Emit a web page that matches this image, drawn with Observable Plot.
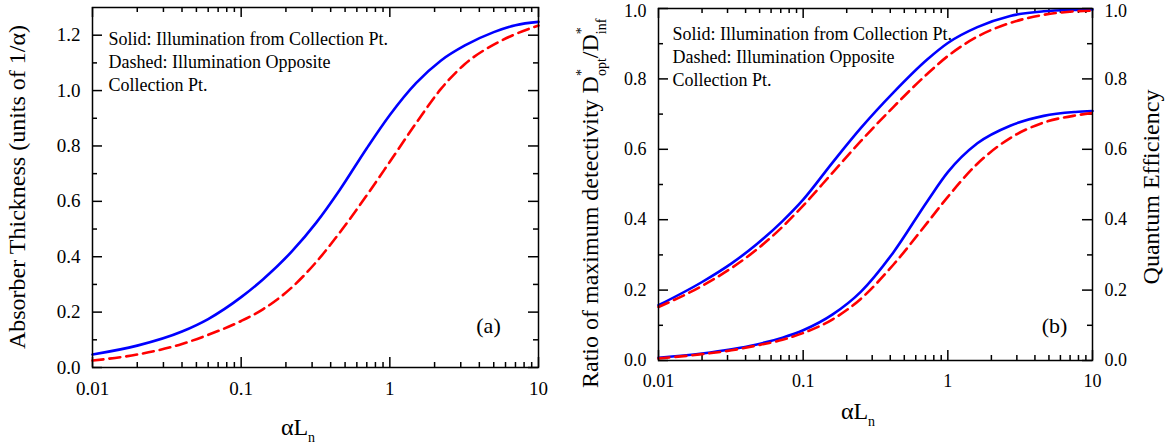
<!DOCTYPE html>
<html><head><meta charset="utf-8">
<script src="https://cdn.jsdelivr.net/npm/d3@7"></script>
<script src="https://cdn.jsdelivr.net/npm/@observablehq/plot@0.6"></script>
<style>
html,body{margin:0;padding:0;background:#fff;}
#wrap{position:relative;width:1165px;height:446px;overflow:hidden;background:#fff;}
#pa{position:absolute;left:0;top:0;}
#pb{position:absolute;left:580px;top:0;}
</style></head><body>
<div id="wrap"><div id="pa"></div><div id="pb"></div></div>
<script>
// ---- Panel (a): absorber thickness ----
const alphaLA = [0.01, 0.02, 0.04, 0.06, 0.1, 0.14, 0.22, 0.32, 0.46, 0.7, 1, 1.5, 2.2, 3.2, 5, 7, 10];
const thickSolid  = [0.047, 0.079, 0.130, 0.175, 0.254, 0.318, 0.420, 0.523, 0.641, 0.792, 0.912, 1.027, 1.108, 1.163, 1.211, 1.236, 1.248];
const thickDashed = [0.025, 0.047, 0.085, 0.118, 0.168, 0.210, 0.290, 0.381, 0.487, 0.622, 0.743, 0.882, 1.005, 1.096, 1.166, 1.204, 1.235];

// ---- Panel (b): detectivity ratio and quantum efficiency ----
const alphaLB = [0.01, 0.02, 0.032, 0.047, 0.072, 0.1, 0.16, 0.25, 0.42, 0.72, 1, 1.6, 2.7, 4.6, 7.6, 10];
const detSolid  = [0.157, 0.223, 0.276, 0.328, 0.396, 0.457, 0.563, 0.660, 0.761, 0.855, 0.902, 0.947, 0.979, 0.992, 0.996, 0.997];
const detDashed = [0.152, 0.212, 0.263, 0.313, 0.380, 0.440, 0.534, 0.623, 0.720, 0.814, 0.865, 0.920, 0.959, 0.982, 0.992, 0.994];
const qeSolid   = [0.008, 0.020, 0.032, 0.045, 0.065, 0.086, 0.131, 0.195, 0.307, 0.452, 0.535, 0.617, 0.667, 0.695, 0.706, 0.709];
const qeDashed  = [0.006, 0.018, 0.029, 0.042, 0.059, 0.078, 0.117, 0.175, 0.272, 0.391, 0.465, 0.559, 0.632, 0.676, 0.696, 0.703];

// ---- Tick labels ----
const xMajor = [0.01, 0.1, 1, 10];
const xTickLabels = ["0.01", "0.1", "1", "10"];
const yMajorA = [0, 0.2, 0.4, 0.6, 0.8, 1.0, 1.2];
const yMinorA = [0.1, 0.3, 0.5, 0.7, 0.9, 1.1];
const yMajorB = [0, 0.2, 0.4, 0.6, 0.8, 1.0];
const yMinorB = [0.1, 0.3, 0.5, 0.7, 0.9];

const legendText = "Solid: Illumination from Collection Pt.\nDashed: Illumination Opposite\nCollection Pt.";

const FONT = '"Liberation Serif","Times New Roman",serif';
const BLUE = "#0000ff", RED = "#ff0000";
const xMinor = [0.01, 0.1, 1].flatMap(d => d3.range(2, 10).map(k => +(k * d).toPrecision(3)));
const rows = (xs, ys) => xs.map((x, i) => ({x, y: ys[i]}));

function yLabels(anchor, ticks, yMax, tickFont) {
  const base = {anchor, tickFormat: d3.format(".1f"), tickSize: 0, tickPadding: 12, label: null, fontSize: tickFont, fill: "#000"};
  const inner = ticks.filter(t => t < yMax);
  const top = ticks.filter(t => t >= yMax);
  // the label sitting on the top edge is nudged down a touch so it stays inside the picture
  return [Plot.axisY({...base, ticks: inner}), ...(top.length ? [Plot.axisY({...base, ticks: top, dy: 3})] : [])];
}

function panel(o) {
  const {width, height, ml, mr, mt, mb, yMax, yMajor, yMinor, series, lgDx, lgDy, tag, tagDx, tagDy, rightLabels, tickFont} = o;
  const H = height - mt - mb, W = width - ml - mr;
  const tk = {stroke: "#000", strokeWidth: 1.5};
  const marks = [
    Plot.tickX(xMajor, {x: d => d, insetTop: H - 10, ...tk}),
    Plot.tickX(xMinor, {x: d => d, insetTop: H - 5, ...tk}),
    Plot.tickX(xMajor, {x: d => d, insetBottom: H - 10, ...tk}),
    Plot.tickX(xMinor, {x: d => d, insetBottom: H - 5, ...tk}),
    Plot.tickY(yMajor, {y: d => d, insetRight: W - 10, ...tk}),
    Plot.tickY(yMinor, {y: d => d, insetRight: W - 5, ...tk}),
    Plot.tickY(yMajor, {y: d => d, insetLeft: W - 10, ...tk}),
    Plot.tickY(yMinor, {y: d => d, insetLeft: W - 5, ...tk}),
    Plot.axisX({ticks: xMajor, tickFormat: d => xTickLabels[xMajor.indexOf(d)], tickSize: 0, tickPadding: 14, label: null, fontSize: tickFont, fill: "#000"}),
    ...yLabels("left", yMajor, yMax, tickFont),
    ...(rightLabels ? yLabels("right", yMajor, yMax, tickFont) : []),
    ...series.map(s => Plot.line(s.rows, {x: "x", y: "y", stroke: s.color, strokeWidth: 2.6, strokeDasharray: s.dash, curve: "monotone-x"})),
    Plot.frame({stroke: "#000", strokeWidth: 1.5}),
    Plot.text([legendText], {frameAnchor: "top-left", dx: lgDx, dy: lgDy, textAnchor: "start", lineAnchor: "top", lineHeight: 1.28, fontSize: 18, fill: "#000", text: d => d}),
    Plot.text([tag], {frameAnchor: "bottom-right", dx: tagDx, dy: tagDy, textAnchor: "middle", fontSize: 22, fill: "#000", text: d => d})
  ];
  return Plot.plot({
    width, height, marginLeft: ml, marginRight: mr, marginTop: mt, marginBottom: mb,
    x: {type: "log", domain: [0.01, 10]},
    y: {domain: [0, yMax]},
    style: {fontFamily: FONT, fontSize: "19px", color: "#000", background: "transparent", overflow: "visible"},
    marks
  });
}

const plotA = panel({
  width: 580, height: 446, ml: 92, mr: 42, mt: 7, mb: 79, yMax: 1.3,
  yMajor: yMajorA, yMinor: yMinorA, tickFont: 19,
  series: [
    {rows: rows(alphaLA, thickSolid), color: BLUE, dash: null},
    {rows: rows(alphaLA, thickDashed), color: RED, dash: "11,6"}
  ],
  lgDx: 16, lgDy: 21, tag: "(a)", tagDx: -50, tagDy: -35, rightLabels: false
});
const plotB = panel({
  width: 585, height: 446, ml: 78, mr: 73, mt: 8, mb: 86, yMax: 1.0,
  yMajor: yMajorB, yMinor: yMinorB, tickFont: 18,
  series: [
    {rows: rows(alphaLB, detSolid), color: BLUE, dash: null},
    {rows: rows(alphaLB, detDashed), color: RED, dash: "11,6"},
    {rows: rows(alphaLB, qeSolid), color: BLUE, dash: null},
    {rows: rows(alphaLB, qeDashed), color: RED, dash: "11,6"}
  ],
  lgDx: 14, lgDy: 15, tag: "(b)", tagDx: -38, tagDy: -28, rightLabels: true
});
document.getElementById("pa").appendChild(plotA);
document.getElementById("pb").appendChild(plotB);

// ---- Axis titles (with sub/superscripts) ----
const sa = d3.select(plotA);
sa.append("text").attr("transform", "translate(25,187) rotate(-90)").attr("text-anchor", "middle")
  .attr("font-family", FONT).attr("font-size", 24).attr("fill", "#000").text("Absorber Thickness (units of 1/α)");
const xa = sa.append("text").attr("x", 298).attr("y", 435).attr("font-family", FONT).attr("font-size", 24).attr("fill", "#000");
xa.append("tspan").text("αL");
xa.append("tspan").attr("font-size", 14).attr("dy", 7).text("n");

const sb = d3.select(plotB);
const xb = sb.append("text").attr("x", 278).attr("y", 419).attr("font-family", FONT).attr("font-size", 24).attr("fill", "#000");
xb.append("tspan").text("αL");
xb.append("tspan").attr("font-size", 14).attr("dy", 7).text("n");

sb.append("text").attr("transform", "translate(579,187) rotate(-90)").attr("text-anchor", "middle")
  .attr("font-family", FONT).attr("font-size", 24).attr("fill", "#000").text("Quantum Efficiency");

const dl = sb.append("text").attr("transform", "translate(18,388) rotate(-90)").attr("text-anchor", "start")
  .attr("font-family", FONT).attr("font-size", 24).attr("fill", "#000");
dl.append("tspan").text("Ratio of maximum detectivity D");
const st1 = dl.append("tspan").attr("font-size", 14).attr("dy", -12).text("*");
const w1 = st1.node().getComputedTextLength();
dl.append("tspan").attr("font-size", 14).attr("dx", -w1).attr("dy", 20).text("opt");
dl.append("tspan").attr("dy", -8).text("/D");
const st2 = dl.append("tspan").attr("font-size", 14).attr("dy", -12).text("*");
const w2 = st2.node().getComputedTextLength();
dl.append("tspan").attr("font-size", 14).attr("dx", -w2).attr("dy", 20).text("inf");
</script>
</body></html>
